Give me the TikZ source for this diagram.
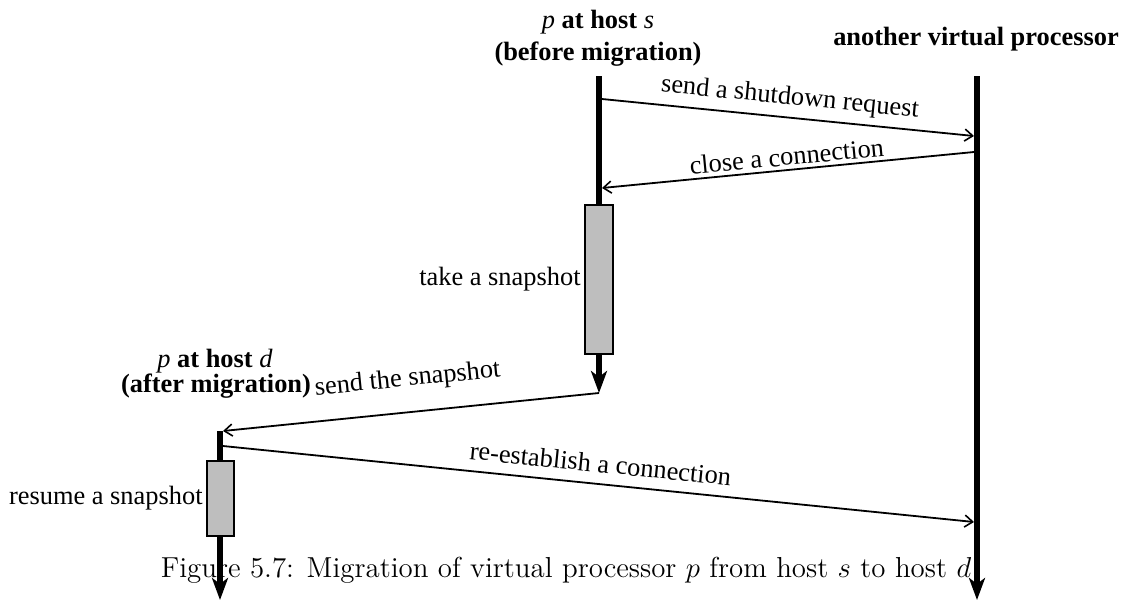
\documentclass[tikz,border=0pt]{standalone}
\usepackage{fontspec}
\newfontfamily\tnr{Liberation Serif}
\usetikzlibrary{arrows.meta}
\definecolor{boxgray}{RGB}{190,190,190}

\begin{document}
\begin{tikzpicture}[x=0.5pt,y=-0.5pt,
  lifeline/.style={line width=3pt,-{Stealth[length=11pt,width=8pt,inset=3pt]}},
  msg/.style={line width=0.9pt,-{Straight Barb[length=4pt,width=6pt,line width=0.8pt]}},
  lbl/.style={font=\tnr\fontsize{13.2pt}{16pt}\selectfont},
  mlbl/.style={lbl,sloped,inner sep=3.3pt},
  head/.style={font=\tnr\bfseries\fontsize{13.2pt}{16pt}\selectfont,anchor=base,inner sep=0pt},
  actbox/.style={draw,line width=1pt,fill=boxgray,inner sep=0pt},
]
\path[use as bounding box] (0,0) rectangle (1130,601);

% caption printed beneath the lifelines
\node[anchor=base,inner sep=0pt,font=\fontsize{14.45pt}{17pt}\selectfont] (caption) at (566,577)
  {Figure 5.7: Migration of virtual processor $p$ from host $s$ to host $d$};

% headers
\node[head] (hs1) at (598,28) {\textit{\mdseries p} at host \textit{\mdseries s}};
\node[head] (hs2) at (598,60) {(before migration)};
\node[head] (ho) at (976,45) {another virtual processor};
\node[head] (hd1) at (215,367) {\textit{\mdseries p} at host \textit{\mdseries d}};
\node[head] (hd2) at (216,392) {(after migration)};

% lifelines
\coordinate (sT) at (599,76);  \coordinate (sB) at (599,393);
\coordinate (oT) at (977,76);  \coordinate (oB) at (977,600);
\coordinate (dT) at (220,431); \coordinate (dB) at (220,600);
\draw[lifeline] (sT) -- (sB);
\draw[lifeline] (oT) -- (oB);
\draw[lifeline] (dT) -- (dB);

% activation boxes
\node[actbox,minimum width=14pt,minimum height=74.5pt] (snapS) at (599,279.5) {};
\node[actbox,minimum width=13.5pt,minimum height=37.5pt] (resD) at (220.5,498.5) {};
\node[lbl,anchor=east,inner sep=1.5pt] (takeL) at (snapS.west) {take a snapshot};
\node[lbl,anchor=east,inner sep=1.5pt] (resL) at (resD.west) {resume a snapshot};

% message end points
\coordinate (m1a) at (602,99);  \coordinate (m1b) at (974,136);
\coordinate (m2a) at (974,152); \coordinate (m2b) at (602,188);
\coordinate (m3b) at (223,431);
\coordinate (m4a) at (223,446); \coordinate (m4b) at (974,522);

\draw[msg] (m1a) -- node[mlbl,above] (l1) {send a shutdown request} (m1b);
\draw[msg] (m2a) -- node[mlbl,above=-1.5pt] (l2) {close a connection} (m2b);
\draw[msg] (sB) -- node[mlbl,pos=0.5,above=6.5pt] (l3) {send the snapshot} (m3b);
\draw[msg] (m4a) -- node[mlbl,above=2pt] (l4) {re-establish a connection} (m4b);
\end{tikzpicture}
\end{document}
